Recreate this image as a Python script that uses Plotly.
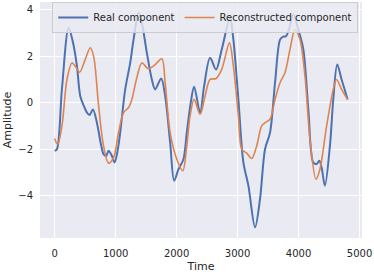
import plotly.graph_objects as go

# Real component (blue) samples
real_time = [0, 38, 120, 229, 300, 366, 420, 480, 530, 573, 628, 693, 760, 802, 846, 884, 939, 983,
             1030, 1075, 1157, 1239, 1294, 1376, 1430, 1512, 1594, 1648, 1747, 1812, 1894, 1960,
             2030, 2112, 2167, 2232, 2287, 2385, 2451, 2549, 2647, 2740, 2877, 2931, 3013, 3095,
             3177, 3286, 3368, 3450, 3532, 3614, 3696, 3740, 3794, 3849, 3914, 3996, 4078, 4160,
             4241, 4296, 4340, 4378, 4432, 4514, 4569, 4634, 4705, 4787, 4803]
real_values = [-2.07, -2.0, 0.6, 3.21, 2.6, 1.57, 0.29, -0.15, -0.43, -0.53, -0.29, -0.86, -1.8, -2.21,
               -2.29, -2.07, -2.29, -2.57, -2.1, -1.29, 0.57, 1.71, 2.71, 3.86, 3.43, 2.14, 1.0,
               0.57, 1.04, 0.29, -1.71, -3.36, -2.86, -2.43, -1.29, 0.0, 0.69, -0.43, 0.71, 1.93,
               1.43, 2.29, 3.64, 2.71, 0.14, -2.57, -3.57, -5.36, -4.14, -2.0, -1.29, 0.86, 2.71,
               2.83, 2.86, 3.21, 3.79, 3.14, 2.29, -0.29, -2.57, -2.64, -2.5, -2.79, -3.57, -1.86,
               0.14, 1.64, 1.0, 0.29, 0.14]

# Reconstructed component (orange) samples
recon_time = [0, 49, 120, 202, 284, 338, 409, 502, 584, 639, 721, 802, 884, 966, 1048, 1130, 1212,
              1266, 1348, 1430, 1539, 1648, 1758, 1812, 1894, 2003, 2101, 2167, 2221, 2287, 2385,
              2467, 2549, 2647, 2740, 2866, 2931, 3013, 3068, 3150, 3231, 3313, 3395, 3450, 3532,
              3614, 3696, 3777, 3859, 3941, 4023, 4105, 4187, 4285, 4350, 4460, 4569, 4623, 4705,
              4803]
recon_values = [-1.54, -1.79, -1.0, 1.0, 1.71, 1.57, 1.31, 1.86, 2.36, 2.0, -0.14, -1.86, -2.6, -2.36,
                -1.29, -0.43, -0.21, 0.14, 1.07, 1.71, 1.46, 1.64, 1.89, 0.86, -1.29, -2.43, -2.93,
                -1.86, -0.57, 0.14, -0.5, 0.29, 1.0, 1.04, 1.43, 2.57, 1.57, -0.57, -2.0, -2.17,
                -2.4, -1.86, -1.0, -0.86, -0.71, 0.14, 0.86, 1.29, 2.29, 3.14, 2.71, 1.14, -1.57,
                -3.29, -2.86, -1.0, 0.57, 1.0, 0.57, 0.14]

x_ticks = [0, 1000, 2000, 3000, 4000, 5000]
y_ticks = [-4, -2, 0, 2, 4]

FONT = "DejaVu Sans"
TXT = "#262626"

fig = go.Figure()
fig.add_trace(go.Scatter(x=real_time, y=real_values, mode="lines", name="Real component",
                         line=dict(color="#4C72B0", width=2, shape="spline", smoothing=0.9)))
fig.add_trace(go.Scatter(x=recon_time, y=recon_values, mode="lines", name="Reconstructed component",
                         line=dict(color="#DD8452", width=1.6, shape="spline", smoothing=0.9)))

fig.update_layout(
    width=374, height=274,
    margin=dict(l=40, r=12, t=2, b=36, autoexpand=False),
    paper_bgcolor="white", plot_bgcolor="#EAEAF2",
    font=dict(family=FONT, size=10, color=TXT),
    showlegend=True,
    legend=dict(orientation="h", x=0.038, y=1.0, xanchor="left", yanchor="top",
                bgcolor="rgba(234,234,242,0.8)", bordercolor="#CCCCCC", borderwidth=1,
                font=dict(family=FONT, size=10, color=TXT), itemwidth=30,
                tracegroupgap=0),
    xaxis=dict(range=[-240, 5040], tickvals=x_ticks, showgrid=True, gridcolor="white",
               gridwidth=1, zeroline=False, showline=False, ticks="",
               ticklabelstandoff=8, automargin=False,
               title=dict(text="Time", font=dict(family=FONT, size=11, color=TXT), standoff=4)),
    yaxis=dict(range=[-5.82, 4.33], tickvals=y_ticks, showgrid=True, gridcolor="white",
               gridwidth=1, zeroline=False, showline=False, ticks="",
               ticklabelstandoff=6, automargin=False,
               title=dict(text="Amplitude", font=dict(family=FONT, size=11, color=TXT), standoff=4)),
)

fig.write_html("out.html", config={"displayModeBar": False},
               post_script="document.body.style.margin='0';")
